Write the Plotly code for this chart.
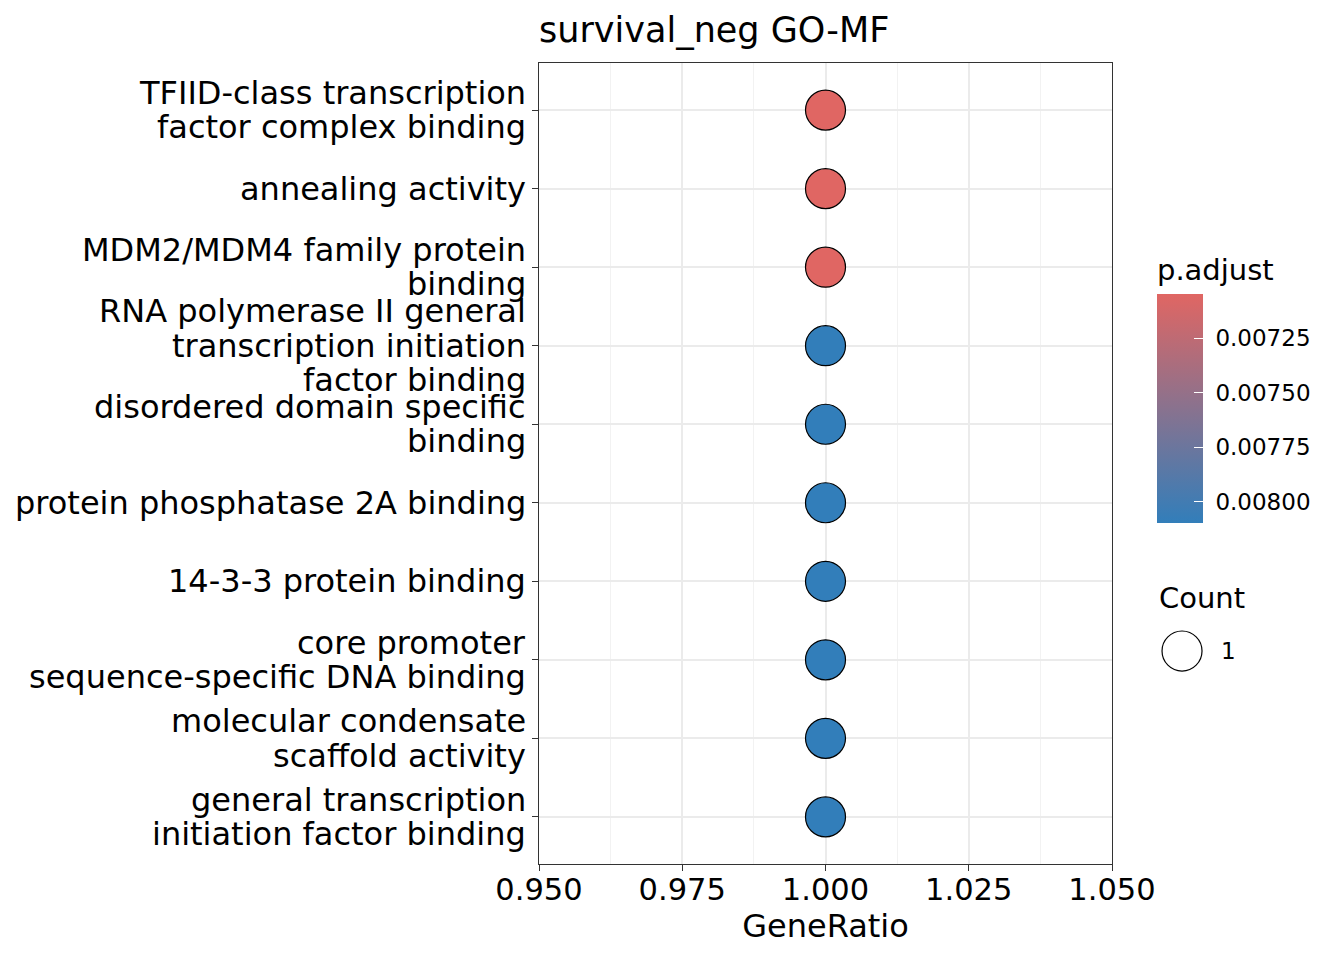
import plotly.graph_objects as go

terms = [
    "TFIID-class transcription<br>factor complex binding",
    "annealing activity",
    "MDM2/MDM4 family protein<br>binding",
    "RNA polymerase II general<br>transcription initiation<br>factor binding",
    "disordered domain specific<br>binding",
    "protein phosphatase 2A binding",
    "14-3-3 protein binding",
    "core promoter<br>sequence-specific DNA binding",
    "molecular condensate<br>scaffold activity",
    "general transcription<br>initiation factor binding",
]
gene_ratio = [1.0] * 10
p_adjust = [0.00705, 0.00705, 0.00705, 0.0081, 0.0081, 0.0081, 0.0081, 0.0081, 0.0081, 0.0081]
counts = [1] * 10
cbar_ticks = [0.00725, 0.00750, 0.00775, 0.00800]
cbar_labels = ["0.00725", "0.00750", "0.00775", "0.00800"]

FONT = "DejaVu Sans"
RED = "#e06663"
BLUE = "#327eba"

# colour by -p so the small (red) values sit on top of the bar, like ggplot's reversed guide
neg_p = [-p for p in p_adjust]
pmin, pmax = 0.007047, 0.008097

fig = go.Figure()
fig.add_trace(go.Scatter(
    x=gene_ratio, y=terms, mode="markers", showlegend=False,
    marker=dict(
        size=[40 * c for c in counts], color=neg_p,
        colorscale=[[0, BLUE], [1, RED]], cmin=-pmax, cmax=-pmin,
        line=dict(color="black", width=1.2), opacity=1,
        colorbar=dict(
            title=dict(text="p.adjust", side="top", font=dict(size=29, family=FONT)),
            x=1.0785, xanchor="left", xref="paper", xpad=0,
            y=0.4257, yanchor="bottom", ypad=0,
            thickness=46, lenmode="pixels", len=268,
            outlinewidth=0,
            tickvals=[-t for t in cbar_ticks],
            ticktext=["\u00a0" + t for t in cbar_labels],
            ticks="inside", tickcolor="white", ticklen=9,
            tickfont=dict(size=23, family=FONT, color="black"),
        ),
    ),
    hovertemplate="GeneRatio %{x}<extra></extra>",
))

# y labels: one annotation per line so the line spacing matches ggplot's tighter leading
line_gap = 34.5
for term in terms:
    lines = term.split("<br>")
    n = len(lines)
    for i, ln in enumerate(lines):
        fig.add_annotation(text=ln, xref="paper", yref="y", x=0, y=term,
                           xanchor="right", yanchor="middle", xshift=-11,
                           yshift=((n - 1) / 2 - i) * line_gap, showarrow=False,
                           font=dict(size=32, family=FONT, color="black"))

# size legend ("Count")
fig.add_annotation(text="Count", xref="paper", yref="paper", x=1.0785, y=0.332,
                   xanchor="left", yanchor="middle", showarrow=False,
                   font=dict(size=29, family=FONT, color="black"))
fig.add_shape(type="circle", xref="paper", yref="paper",
              x0=1.0873, x1=1.1571, y0=0.2909, y1=0.2409,
              line=dict(color="black", width=1.2), fillcolor="white")
fig.add_annotation(text=str(counts[0]), xref="paper", yref="paper", x=1.186, y=0.2659,
                   xanchor="left", yanchor="middle", showarrow=False,
                   font=dict(size=23, family=FONT, color="black"))

fig.update_layout(
    width=1344, height=960,
    margin=dict(l=531, r=240, t=55, b=104),
    paper_bgcolor="white", plot_bgcolor="white",
    font=dict(family=FONT, color="black"),
    title=dict(text="survival_neg GO-MF", x=531 / 1344, xanchor="left",
               y=1 - 22 / 960, yanchor="middle",
               font=dict(size=35, family=FONT, color="black")),
)
fig.update_xaxes(
    range=[0.95, 1.05], tickvals=[0.95, 0.975, 1.0, 1.025, 1.05],
    ticktext=["0.950", "0.975", "1.000", "1.025", "1.050"],
    tickfont=dict(size=30.5, family=FONT, color="black"),
    ticklabelstandoff=-8,
    title=dict(text="GeneRatio", font=dict(size=32, family=FONT, color="black"), standoff=2),
    showgrid=True, gridcolor="#EBEBEB", gridwidth=2,
    minor=dict(tickvals=[0.9625, 0.9875, 1.0125, 1.0375], showgrid=True,
               gridcolor="#F2F2F2", gridwidth=1),
    ticks="outside", ticklen=6, tickcolor="#333333",
    showline=True, linecolor="#333333", mirror=True, linewidth=1,
    zeroline=False,
)
fig.update_yaxes(
    categoryorder="array", categoryarray=terms[::-1], range=[-0.6, 9.6],
    showticklabels=False,
    showgrid=True, gridcolor="#EBEBEB", gridwidth=2,
    ticks="outside", ticklen=6, tickcolor="#333333",
    showline=True, linecolor="#333333", mirror=True, linewidth=1,
    zeroline=False,
)

fig.write_html("out.html")
